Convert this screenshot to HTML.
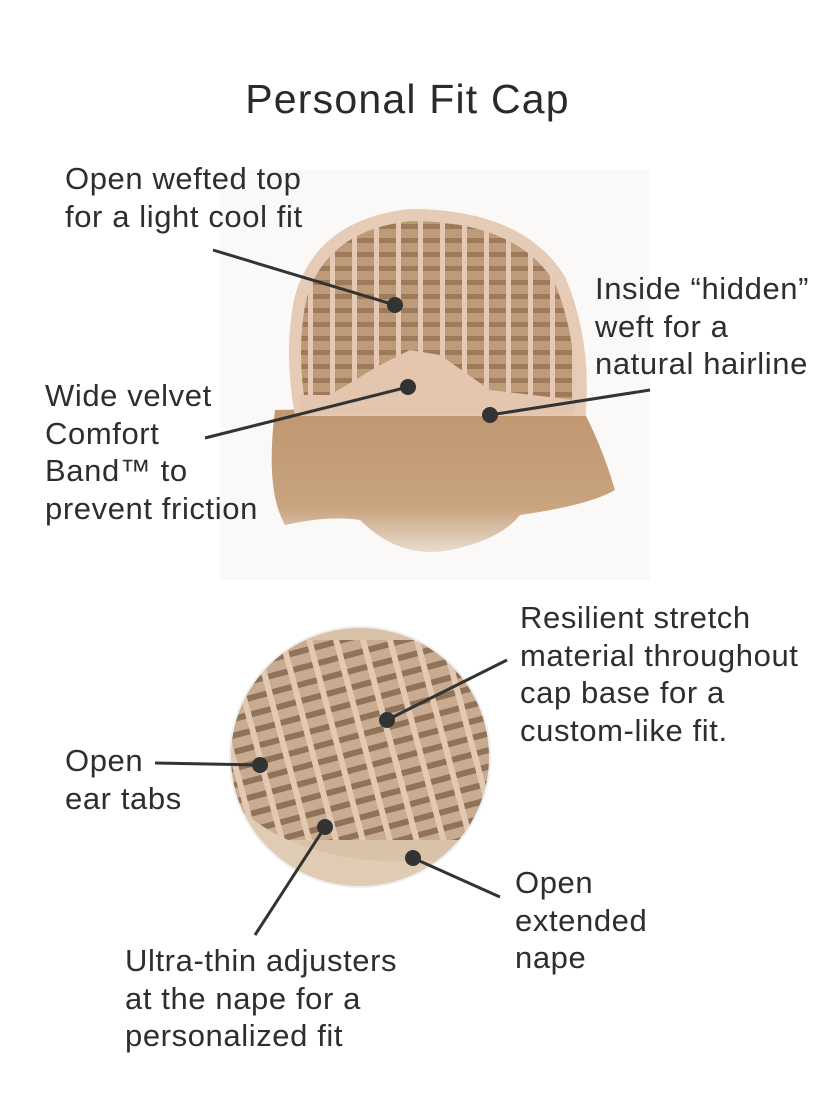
<!DOCTYPE html>
<html><head><meta charset="utf-8"><style>
body{margin:0;width:840px;height:1120px;background:#fff;position:relative;overflow:hidden;font-family:"Liberation Sans",sans-serif;color:#2e2e2e}
.t{position:absolute;font-size:31px;letter-spacing:0.6px;line-height:37.5px;white-space:nowrap}
h1{position:absolute;left:0;width:815px;text-align:center;top:76px;margin:0;font-weight:normal;font-size:41px;letter-spacing:1.2px;color:#2a2a2a}
svg{position:absolute;left:0;top:0}
</style></head><body>
<svg width="840" height="1120">
<defs>
<pattern id="w" width="22" height="14" patternUnits="userSpaceOnUse">
<rect width="22" height="14" fill="#bd9a78"/><rect y="0" width="22" height="5" fill="#9c7a5a"/><rect x="0" width="5" height="14" fill="#e5c9b3"/>
</pattern>
<pattern id="w2" width="26" height="16" patternUnits="userSpaceOnUse" patternTransform="rotate(-15)">
<rect width="26" height="16" fill="#c8ab90"/><rect y="0" width="26" height="6" fill="#8f7258"/><rect x="0" width="6" height="16" fill="#e3c8b2"/>
</pattern>
<linearGradient id="h" x1="0" y1="0" x2="0" y2="1"><stop offset="0" stop-color="#bf9670"/><stop offset="0.7" stop-color="#c9a47f"/><stop offset="1" stop-color="#e8dccd"/></linearGradient>
<clipPath id="c"><circle cx="360" cy="757" r="130"/></clipPath>
</defs>
<rect x="220" y="170" width="430" height="410" fill="#faf9f8"/>
<path d="M275 410 Q265 490 285 525 Q330 515 360 520 Q400 560 450 550 Q500 540 520 515 Q590 505 615 490 Q600 440 580 405 Z" fill="url(#h)"/>
<path d="M300 300 Q320 225 410 215 Q520 215 560 280 Q585 340 580 410 L300 410 Q290 350 300 300Z" fill="url(#w)"/>
<path d="M300 300 Q320 225 410 215 Q520 215 560 280 Q585 340 580 410 L300 410 Q290 350 300 300Z" fill="none" stroke="#e6cbb6" stroke-width="12"/>
<path d="M330 395 L380 365 L410 350 L440 355 L490 390 L575 400 L575 415 L300 415 L300 395Z" fill="#e4c5ae"/>
<g clip-path="url(#c)">
<rect x="220" y="620" width="280" height="280" fill="#d9c2a8"/>
<rect x="230" y="640" width="260" height="200" fill="url(#w2)"/>
<path d="M230 800 Q300 870 430 860 L490 900 L220 900Z" fill="#e0ccb4"/>
</g>
<circle cx="360" cy="757" r="130" fill="none" stroke="#eee" stroke-width="2"/>
<g stroke="#333" stroke-width="3">
<line x1="213" y1="250" x2="395" y2="305"/><line x1="205" y1="438" x2="408" y2="387"/><line x1="650" y1="390" x2="490" y2="415"/>
<line x1="507" y1="660" x2="387" y2="720"/><line x1="155" y1="763" x2="260" y2="765"/><line x1="255" y1="935" x2="325" y2="827"/><line x1="500" y1="897" x2="413" y2="858"/>
</g>
<g fill="#333">
<circle cx="395" cy="305" r="8"/><circle cx="408" cy="387" r="8"/><circle cx="490" cy="415" r="8"/>
<circle cx="387" cy="720" r="8"/><circle cx="260" cy="765" r="8"/><circle cx="325" cy="827" r="8"/><circle cx="413" cy="858" r="8"/>
</g>
</svg>
<h1>Personal Fit Cap</h1>
<div class="t" style="left:65px;top:160px">Open wefted top<br>for a light cool fit</div>
<div class="t" style="left:595px;top:270px">Inside “hidden”<br>weft for a<br>natural hairline</div>
<div class="t" style="left:45px;top:377px">Wide velvet<br>Comfort<br>Band™ to<br>prevent friction</div>
<div class="t" style="left:520px;top:599px">Resilient stretch<br>material throughout<br>cap base for a<br>custom-like fit.</div>
<div class="t" style="left:65px;top:742px">Open<br>ear tabs</div>
<div class="t" style="left:515px;top:864px">Open<br>extended<br>nape</div>
<div class="t" style="left:125px;top:942px">Ultra-thin adjusters<br>at the nape for a<br>personalized fit</div>
</body></html>
